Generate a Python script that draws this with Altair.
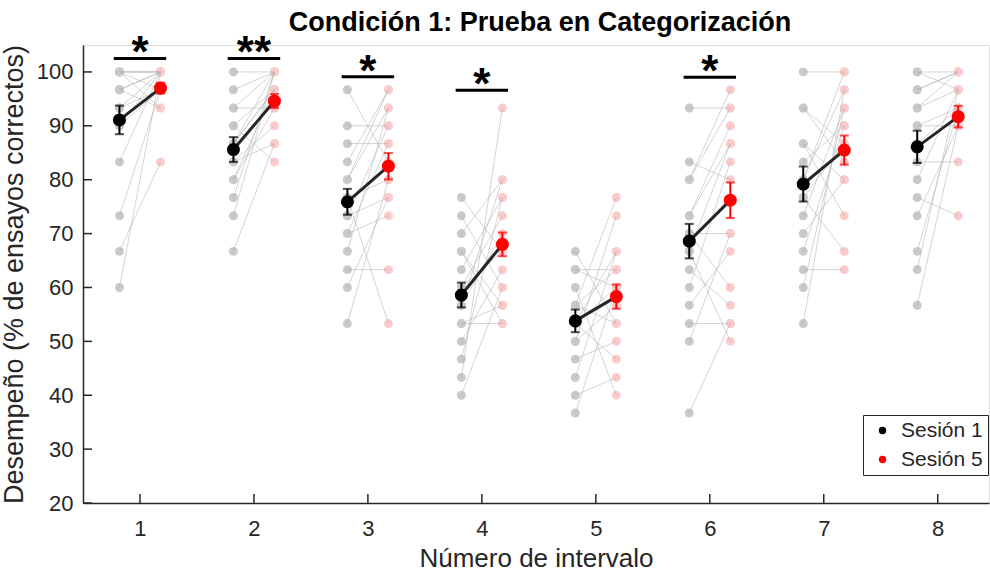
import altair as alt
import pandas as pd

# ---------------- data ----------------
intervals = [1, 2, 3, 4, 5, 6, 7, 8]

# individual subjects, % correct (session 1), one list per interval
sesion1 = [
    [100, 100, 100, 100, 96.7, 96.7, 96.7, 93.3, 93.3, 90, 90, 83.3, 73.3, 66.7, 60, 100],
    [100, 96.7, 93.3, 90, 90, 86.7, 86.7, 83.3, 83.3, 80, 80, 76.7, 73.3, 66.7, 93.3, 86.7],
    [96.7, 90, 86.7, 83.3, 80, 76.7, 76.7, 73.3, 73.3, 70, 70, 66.7, 63.3, 60, 53.3, 80],
    [76.7, 73.3, 70, 66.7, 63.3, 60, 56.7, 53.3, 50, 46.7, 43.3, 40, 60, 56.7, 53.3, 66.7],
    [66.7, 63.3, 56.7, 56.7, 53.3, 53.3, 50, 50, 46.7, 43.3, 40, 36.7, 60, 56.7, 63.3, 53.3],
    [93.3, 83.3, 80, 73.3, 70, 70, 66.7, 63.3, 60, 56.7, 53.3, 50, 36.7, 73.3, 66.7, 80],
    [100, 93.3, 93.3, 86.7, 83.3, 80, 76.7, 73.3, 70, 66.7, 63.3, 60, 53.3, 86.7, 80, 76.7],
    [100, 100, 96.7, 93.3, 90, 90, 86.7, 83.3, 80, 76.7, 73.3, 66.7, 63.3, 56.7, 96.7, 93.3],
]
# same subjects, session 5
sesion5 = [
    [100, 100, 96.7, 93.3, 100, 100, 93.3, 100, 96.7, 100, 96.7, 100, 96.7, 83.3, 100, 100],
    [100, 100, 100, 96.7, 83.3, 96.7, 100, 90, 86.7, 93.3, 96.7, 100, 100, 86.7, 93.3, 96.7],
    [83.3, 90, 86.7, 96.7, 93.3, 53.3, 80, 76.7, 90, 73.3, 86.7, 93.3, 63.3, 76.7, 80, 96.7],
    [66.7, 60, 80, 56.7, 76.7, 73.3, 70, 53.3, 63.3, 76.7, 93.3, 60, 66.7, 80, 56.7, 53.3],
    [53.3, 60, 76.7, 63.3, 66.7, 46.7, 73.3, 56.7, 50, 66.7, 43.3, 60, 40, 53.3, 63.3, 60],
    [93.3, 80, 96.7, 90, 70, 60, 86.7, 56.7, 83.3, 66.7, 53.3, 70, 53.3, 86.7, 50, 93.3],
    [100, 83.3, 86.7, 73.3, 90, 96.7, 66.7, 93.3, 80, 90, 63.3, 93.3, 96.7, 80, 100, 86.7],
    [96.7, 100, 100, 100, 93.3, 90, 93.3, 83.3, 96.7, 73.3, 90, 93.3, 96.7, 90, 100, 96.7],
]

mean_s1 = [91.1, 85.6, 75.9, 58.6, 53.8, 68.6, 79.2, 86.1]
mean_s5 = [97.0, 94.6, 82.5, 68.0, 58.3, 76.2, 85.5, 91.7]
sem_s1 = [2.65, 2.3, 2.4, 2.3, 2.1, 3.2, 3.25, 3.0]
sem_s5 = [1.0, 1.3, 2.45, 2.2, 2.25, 3.3, 2.7, 2.0]

sig_intervals = [1, 2, 3, 4, 6]
sig_levels = [102.5, 102.5, 99.1, 96.6, 99.0]
sig_labels = ["*", "**", "*", "*", "*"]

y_ticks = [20, 30, 40, 50, 60, 70, 80, 90, 100]
sessions = ["Sesión 1", "Sesión 5"]

# ---------------- tables ----------------
OFF = 0.18
ind_rows = []
for i, k in enumerate(intervals):
    for j, (a, b) in enumerate(zip(sesion1[i], sesion5[i])):
        ind_rows.append(dict(k=k, pair=f"{k}-{j}", session=sessions[0], x=k - OFF, v=a))
        ind_rows.append(dict(k=k, pair=f"{k}-{j}", session=sessions[1], x=k + OFF, v=b))
ind = pd.DataFrame(ind_rows)

mean_rows = []
for i, k in enumerate(intervals):
    mean_rows.append(dict(k=k, session=sessions[0], x=k - OFF, m=mean_s1[i],
                          lo=mean_s1[i] - sem_s1[i], hi=mean_s1[i] + sem_s1[i]))
    mean_rows.append(dict(k=k, session=sessions[1], x=k + OFF, m=mean_s5[i],
                          lo=mean_s5[i] - sem_s5[i], hi=mean_s5[i] + sem_s5[i]))
means = pd.DataFrame(mean_rows)

sig = pd.DataFrame(dict(k=sig_intervals, y=sig_levels, lab=sig_labels))
sig["x1"] = sig["k"] - 0.23
sig["x2"] = sig["k"] + 0.23

yt = pd.DataFrame(dict(v=y_ticks))
xt = pd.DataFrame(dict(v=intervals))

FONT = "Liberation Sans"
AX = "#262626"
W, H = 906, 458

xscale = alt.Scale(domain=[0.5, 8.45], nice=False, zero=False)
yscale = alt.Scale(domain=[20, 105], nice=False, zero=False)

X = alt.X("x:Q", scale=xscale,
          axis=alt.Axis(values=intervals, ticks=False, grid=False, format="d",
                        labelFontSize=22, labelColor=AX, labelFont=FONT, labelPadding=15,
                        domainColor=AX, domainWidth=1.5,
                        title="Número de intervalo", titleFontSize=26, titleFont=FONT,
                        titleFontWeight="normal", titleColor=AX, titlePadding=6))
Y = alt.Y("v:Q", scale=yscale,
          axis=alt.Axis(values=y_ticks, ticks=False, grid=False,
                        labelFontSize=22, labelColor=AX, labelFont=FONT, labelPadding=10,
                        domainColor=AX, domainWidth=1.5,
                        title="Desempeño (% de ensayos correctos)", titleFontSize=27,
                        titleFont=FONT, titleFontWeight="normal", titleColor=AX,
                        titlePadding=8))

base_ind = alt.Chart(ind)
pts1 = base_ind.transform_filter(alt.datum.session == sessions[0]).mark_circle(
    size=80, color="#c9c9c9", opacity=1).encode(x=X, y=Y)
pts5 = base_ind.transform_filter(alt.datum.session == sessions[1]).mark_circle(
    size=80, color="#fbcaca", opacity=1).encode(x=X, y=Y)
lines = base_ind.mark_line(color="#b0b0b0", strokeWidth=1, opacity=0.55).encode(
    x=X, y=Y, detail="pair:N", order="x:Q")

bm = alt.Chart(means)
mean_line = bm.mark_line(color="#262626", strokeWidth=3).encode(
    x=X, y=alt.Y("m:Q", scale=yscale), detail="k:N", order="x:Q")

err_layers = []
for s, c in zip(sessions, ["black", "red"]):
    f = bm.transform_filter(alt.datum.session == s)
    err_layers.append(f.mark_rule(color=c, strokeWidth=2).encode(
        x=X, y=alt.Y("lo:Q", scale=yscale), y2="hi:Q"))
    err_layers.append(f.mark_tick(color=c, orient="horizontal", size=9, thickness=2).encode(
        x=X, y=alt.Y("lo:Q", scale=yscale)))
    err_layers.append(f.mark_tick(color=c, orient="horizontal", size=9, thickness=2).encode(
        x=X, y=alt.Y("hi:Q", scale=yscale)))

mean_pts = bm.mark_circle(size=170, opacity=1).encode(
    x=X, y=alt.Y("m:Q", scale=yscale),
    color=alt.Color("session:N",
                    scale=alt.Scale(domain=sessions, range=["black", "red"]),
                    legend=alt.Legend(orient="none", legendX=780, legendY=370, title=None,
                                      labelFontSize=21, labelFont=FONT, labelColor=AX,
                                      symbolType="circle", symbolSize=55,
                                      symbolStrokeWidth=0, symbolOpacity=1,
                                      fillColor="white", strokeColor=AX,
                                      padding=5, symbolOffset=4, labelOffset=8,
                                      rowPadding=7, cornerRadius=0)))

bs = alt.Chart(sig)
sig_bars = bs.mark_rule(color="black", strokeWidth=3).encode(
    x=alt.X("x1:Q", scale=xscale), x2="x2:Q", y=alt.Y("y:Q", scale=yscale))
stars = bs.mark_text(fontSize=44, fontWeight="bold", font=FONT, baseline="alphabetic",
                     dy=9, color="black").encode(
    x=alt.X("k:Q", scale=xscale), y=alt.Y("y:Q", scale=yscale), text="lab:N")

ytick_marks = alt.Chart(yt).mark_rule(color=AX, strokeWidth=1.5).encode(
    x=alt.value(0), x2=alt.value(9), y=alt.Y("v:Q", scale=yscale))
xtick_marks = alt.Chart(xt).mark_rule(color=AX, strokeWidth=1.5).encode(
    x=alt.X("v:Q", scale=xscale), y=alt.value(H), y2=alt.value(H - 9))

chart = alt.layer(
    pts1, pts5, lines, mean_line, *err_layers, mean_pts, sig_bars, stars,
    ytick_marks, xtick_marks,
).properties(
    width=W, height=H,
    title=alt.TitleParams("Condición 1: Prueba en Categorización", fontSize=27,
                          fontWeight="bold", font=FONT, anchor="middle", offset=0,
                          baseline="alphabetic", color="black", dx=4, dy=26,
                          frame="group"),
    autosize=alt.AutoSizeParams(type="none"),
    padding={"left": 83, "right": 1, "top": 45, "bottom": 71},
).configure_view(stroke=None).configure(background="white")

chart.save("out.html", embed_options={"renderer": "svg", "actions": False})
